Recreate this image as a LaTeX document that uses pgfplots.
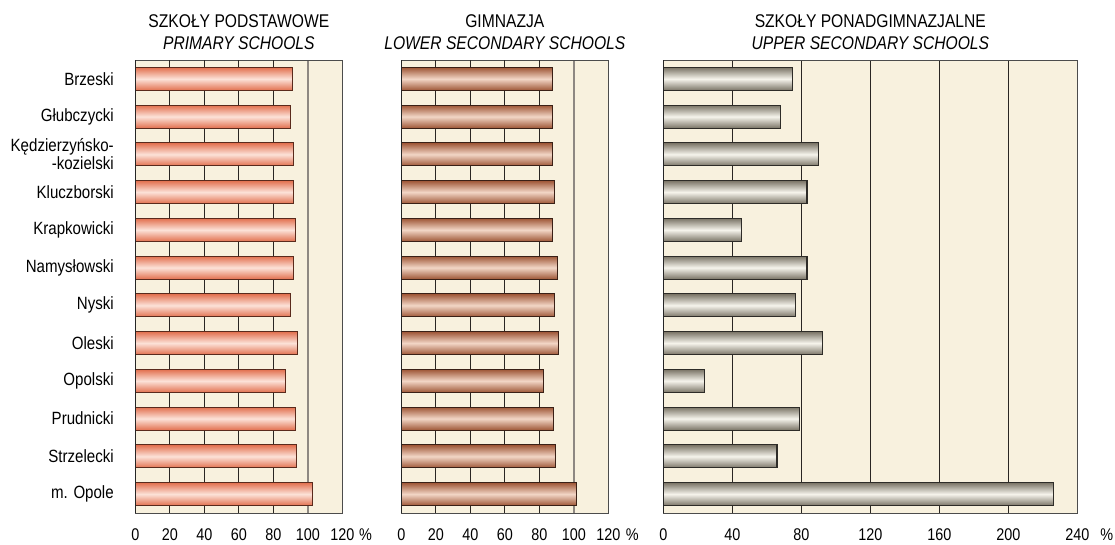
\documentclass[border=0pt]{standalone}
\usepackage{fontspec}
\setmainfont{Liberation Sans}[FakeStretch=0.85]
\usepackage{pgfplots}
\usepackage{pgfplotstable}
\pgfplotsset{compat=1.18}
\definecolor{cream}{HTML}{F8F1DE}
\definecolor{salE}{HTML}{E2704F}
\definecolor{salM}{HTML}{FCE2D8}
\definecolor{salB}{HTML}{5A2A1C}
\definecolor{brE}{HTML}{9E5636}
\definecolor{brM}{HTML}{F2D6C6}
\definecolor{brB}{HTML}{3A2016}
\definecolor{grE}{HTML}{7A7466}
\definecolor{grM}{HTML}{F6F4EC}
\definecolor{grB}{HTML}{2E2C28}
\definecolor{gridd}{HTML}{2A2622}
\definecolor{gridg}{HTML}{8E8882}

% idx: 0 Brzeski ... 11 m. Opole
\pgfplotstableread{
idx val
0 91.2
1 90.1
2 91.8
3 91.8
4 93.0
5 91.6
6 89.9
7 93.9
8 87.2
9 93.0
10 93.7
11 102.8
}\primary
\pgfplotstableread{
idx val
0 87.5
1 87.9
2 87.5
3 88.7
4 87.4
5 90.3
6 88.6
7 91.2
8 82.3
9 88.3
10 89.5
11 101.7
}\lowersec
\pgfplotstableread{
idx val
0 75.0
1 68.0
2 89.9
3 83.3
4 45.4
5 83.3
6 76.7
7 92.2
8 23.8
9 78.9
10 65.9
11 226.1
}\uppersec

\tikzset{titl/.style={font={\fontsize{13.8}{15}\selectfont}, anchor=center},
  pct/.style={font={\fontsize{12.7}{14}\selectfont}, anchor=center}}
\pgfplotsset{
  panel/.style={
    scale only axis,
    height=339.75pt,
    ymin=-0.5, ymax=11.5, y dir=reverse,
    axis background/.style={fill=cream},
    axis line style={draw=black!70, line width=0.6pt},
    major tick length=0pt, minor tick length=0pt,
    tick style={draw=none},
    /pgf/number format/assume math mode=true,
    xticklabel style={font={\fontsize{12.7}{14}\selectfont}, anchor=center, yshift=-16.5pt},
    yticklabel style={font={\fontsize{13.3}{12}\selectfont}, align=right, anchor=east, inner sep=0pt, xshift=-16pt},
    clip=false,
  },
  onebar/.style={xbar, bar width=17.25pt, bar shift=0pt, line width=0.8pt},
}

\begin{document}
\begin{tikzpicture}[x=1pt,y=1pt]
\useasboundingbox (0,0) rectangle (836.25,408);

% Panel 1
\begin{axis}[panel, at={(101.5pt,23.25pt)}, anchor=south west, width=155.25pt,
  xmin=0, xmax=120, xtick={0,20,...,120},
  extra x ticks={20,40,60,80}, extra x tick labels={},
  extra x tick style={grid=major, major grid style={draw=gridd, line width=0.7pt}},
  minor xtick={100}, xminorgrids=true, minor grid style={draw=gridg, line width=1.4pt},
  ytick={0,...,11},
  yticklabels={Brzeski, Głubczycki, {Kędzierzyńsko-\\-kozielski}, Kluczborski, Krapkowicki, Namysłowski, Nyski, Oleski, Opolski, Prudnicki, Strzelecki, m. Opole},
]
\pgfplotsinvokeforeach{0,...,11}{
\addplot[onebar, draw=salB, top color=salE, bottom color=salE, middle color=salM]
  table[x=val, y=idx, restrict expr to domain={\coordindex}{#1:#1}] {\primary};
}
\draw[black!85, line width=1.1pt] (rel axis cs:0,0) -- (rel axis cs:0,1);
\node[titl] at ([yshift=28.9pt]rel axis cs:0.5,1) {SZKOŁY PODSTAWOWE};
\node[titl] at ([yshift=13pt]rel axis cs:0.5,1) {\itshape PRIMARY SCHOOLS};
\node[pct] at ([xshift=17.4pt, yshift=-16.5pt]rel axis cs:1,0) {\%};
\end{axis}

% Panel 2
\begin{axis}[panel, at={(301pt,23.25pt)}, anchor=south west, width=155.25pt,
  xmin=0, xmax=120, xtick={0,20,...,120},
  extra x ticks={20,40,60,80}, extra x tick labels={},
  extra x tick style={grid=major, major grid style={draw=gridd, line width=0.7pt}},
  minor xtick={100}, xminorgrids=true, minor grid style={draw=gridg, line width=1.4pt},
  ytick=\empty,
]
\pgfplotsinvokeforeach{0,...,11}{
\addplot[onebar, draw=brB, top color=brE, bottom color=brE, middle color=brM]
  table[x=val, y=idx, restrict expr to domain={\coordindex}{#1:#1}] {\lowersec};
}
\draw[black!85, line width=1.1pt] (rel axis cs:0,0) -- (rel axis cs:0,1);
\node[titl] at ([yshift=28.9pt]rel axis cs:0.5,1) {GIMNAZJA};
\node[titl] at ([yshift=13pt]rel axis cs:0.5,1) {\itshape LOWER SECONDARY SCHOOLS};
\node[pct] at ([xshift=18pt, yshift=-16.5pt]rel axis cs:1,0) {\%};
\end{axis}

% Panel 3
\begin{axis}[panel, at={(497.5pt,23.25pt)}, anchor=south west, width=310.5pt,
  xmin=0, xmax=240, xtick={0,40,...,240},
  xmajorgrids=true, major grid style={draw=gridd, line width=0.7pt},
  ytick=\empty,
]
\pgfplotsinvokeforeach{0,...,11}{
\addplot[onebar, draw=grB, top color=grE, bottom color=grE, middle color=grM]
  table[x=val, y=idx, restrict expr to domain={\coordindex}{#1:#1}] {\uppersec};
}
\draw[black!85, line width=1.1pt] (rel axis cs:0,0) -- (rel axis cs:0,1);
\node[titl] at ([yshift=28.9pt]rel axis cs:0.5,1) {SZKOŁY PONADGIMNAZJALNE};
\node[titl] at ([yshift=13pt]rel axis cs:0.5,1) {\itshape UPPER SECONDARY SCHOOLS};
\node[pct] at ([xshift=22pt, yshift=-16.5pt]rel axis cs:1,0) {\%};
\end{axis}
\end{tikzpicture}
\end{document}
